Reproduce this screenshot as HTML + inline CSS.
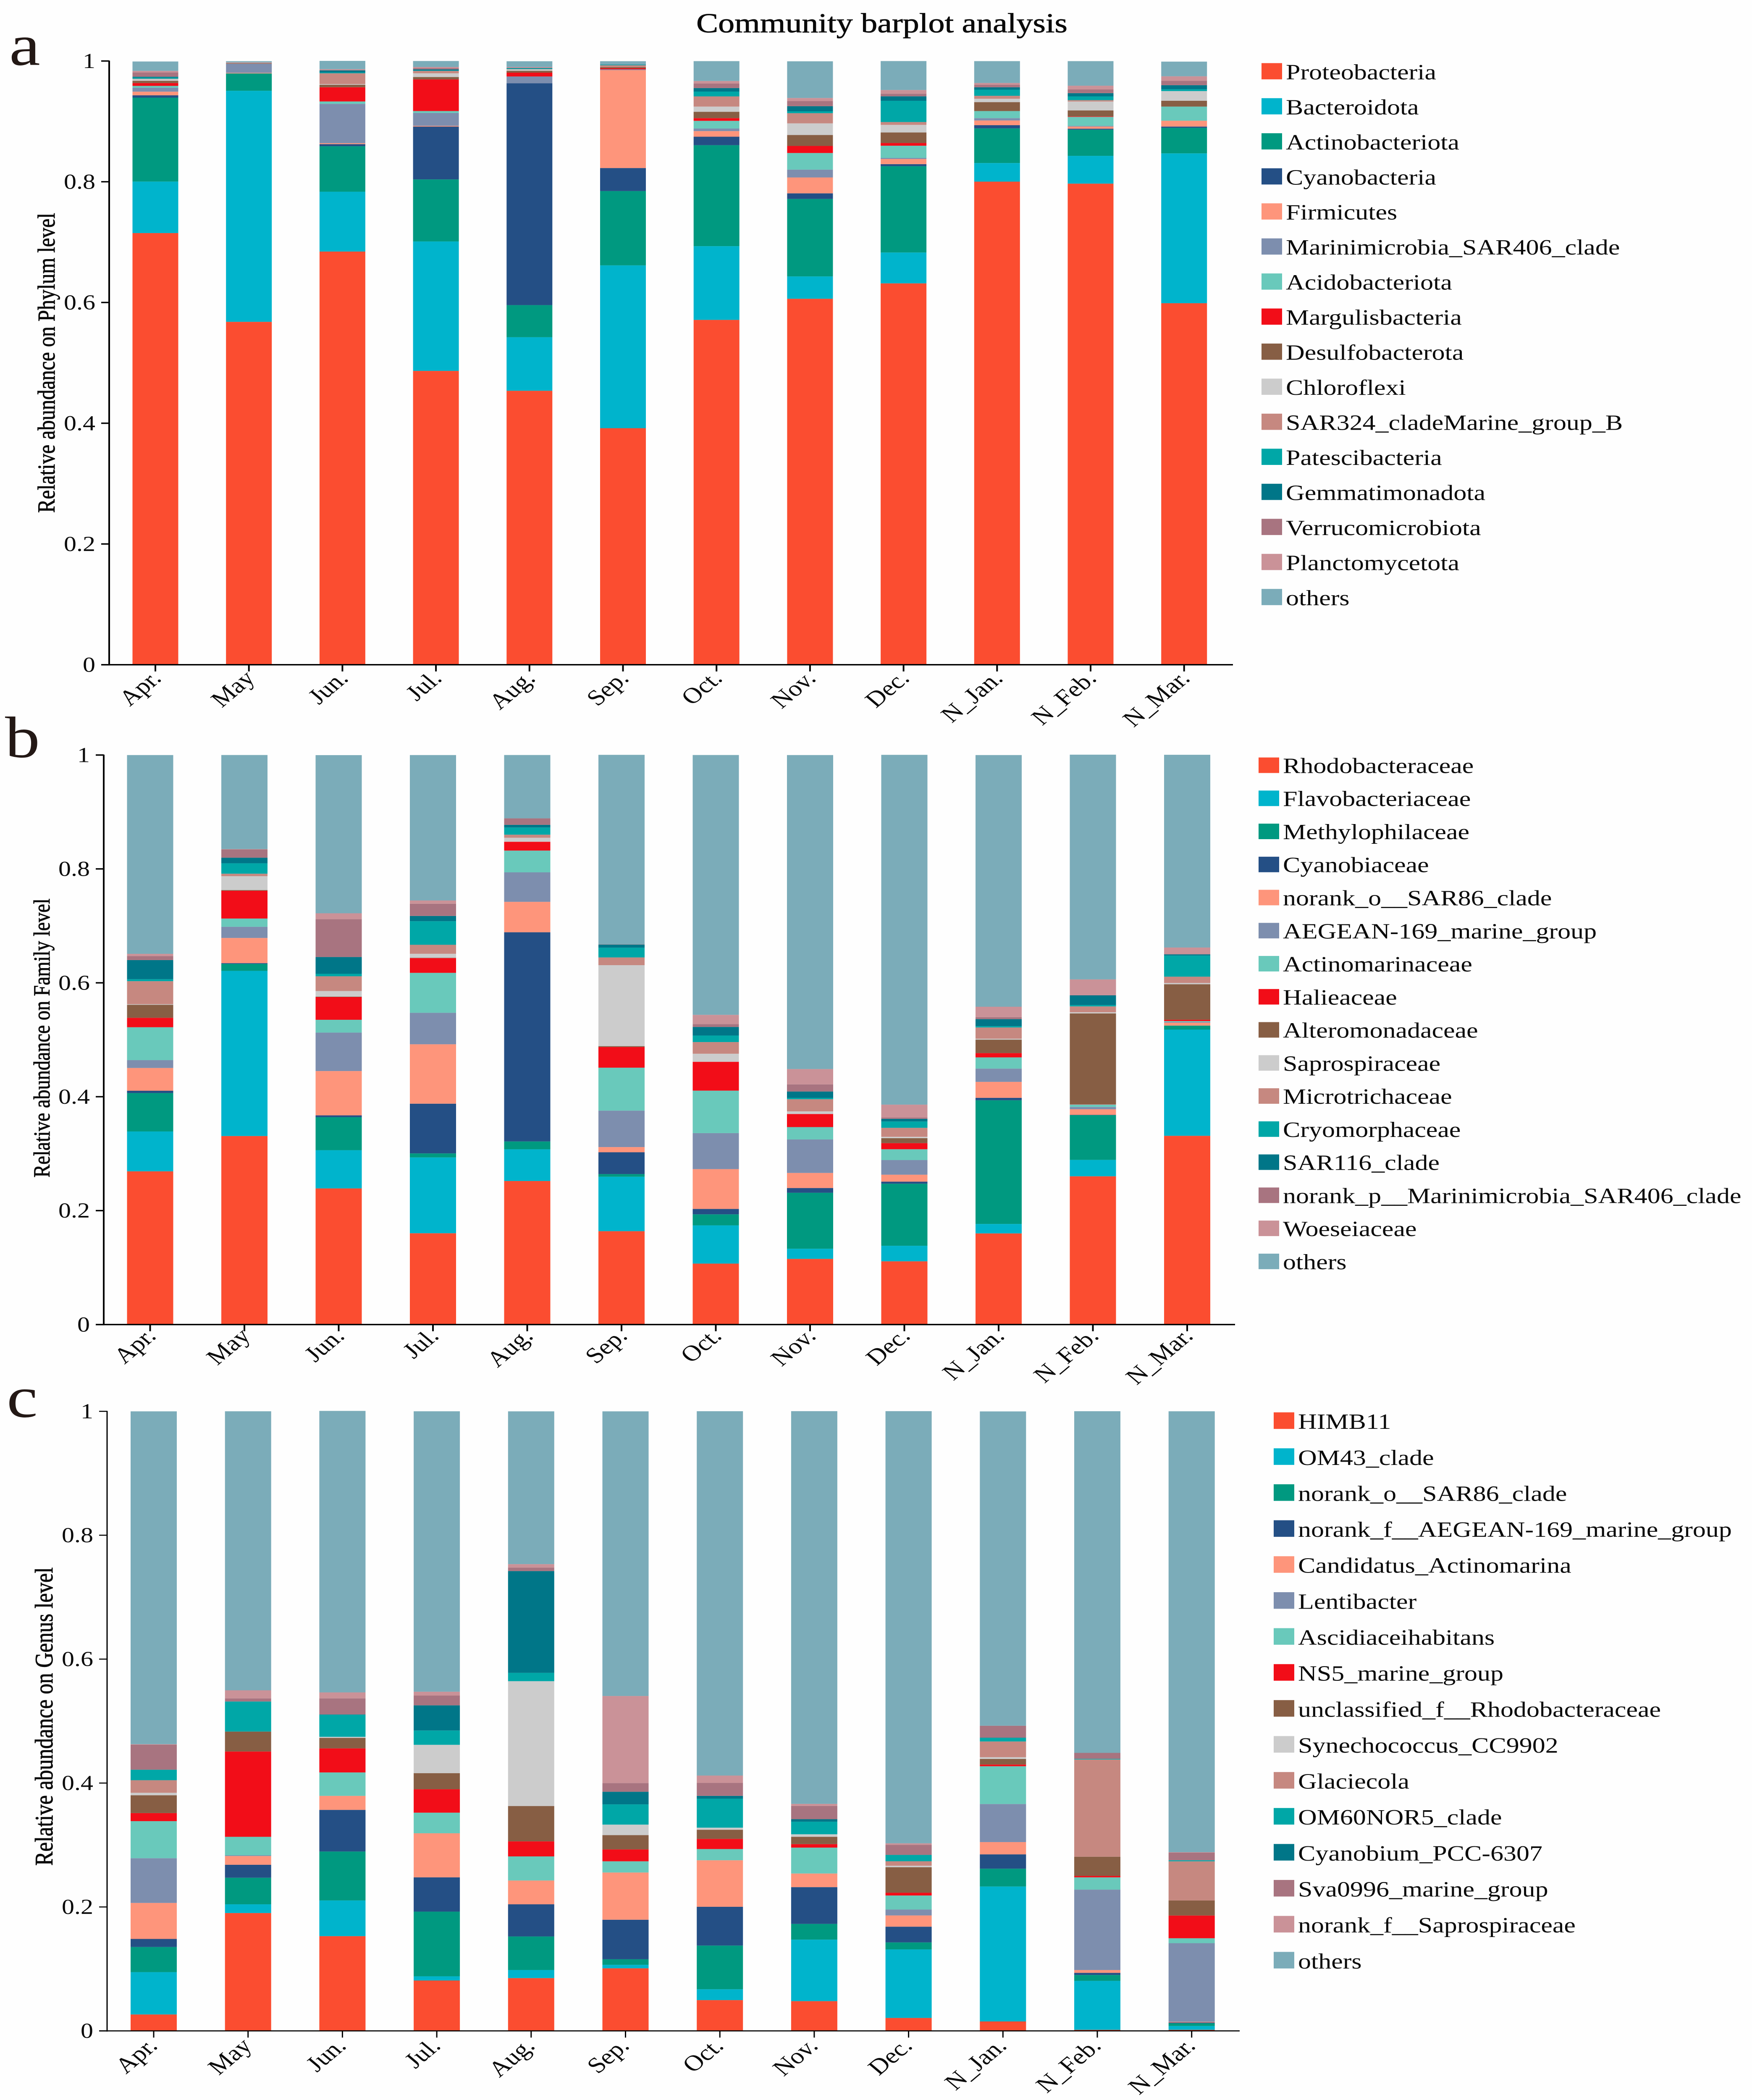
<!DOCTYPE html>
<html lang="en">
<head>
<meta charset="utf-8">
<title>Community barplot analysis</title>
<style>
html,body{margin:0;padding:0;width:100%;height:100%;overflow:hidden;background:#fefefe;}
svg{display:block;width:100vw;height:100vh;}
text{font-family:"Liberation Serif","Times New Roman",serif;fill:#0a0a0a;}
</style>
</head>
<body>
<svg id="figure" xmlns="http://www.w3.org/2000/svg" viewBox="0 0 4172 5955" preserveAspectRatio="none">
<rect x="0" y="0" width="4172" height="5955" fill="#fefefe"/>
<text x="2100" y="92" font-size="78" text-anchor="middle" stroke="#0a0a0a" stroke-width="1">Community barplot analysis</text>
<text x="22" y="184" font-size="166" style="fill:#231815">a</text>
<text x="12" y="2147" font-size="166" style="fill:#231815">b</text>
<text x="16" y="4018" font-size="166" style="fill:#231815">c</text>
<g id="chart-a"></g>
<g id="chart-b"></g>
<g id="chart-c"></g>
</svg>
<script>
const categories = ["Apr.","May","Jun.","Jul.","Aug.","Sep.","Oct.","Nov.","Dec.","N_Jan.","N_Feb.","N_Mar."];
const tickValues = [0,0.2,0.4,0.6,0.8,1];
const tickLabels = ["0","0.2","0.4","0.6","0.8","1"];

/* Panel a: phylum */
const phylumNames = ["Proteobacteria","Bacteroidota","Actinobacteriota","Cyanobacteria","Firmicutes","Marinimicrobia_SAR406_clade","Acidobacteriota","Margulisbacteria","Desulfobacterota","Chloroflexi","SAR324_cladeMarine_group_B","Patescibacteria","Gemmatimonadota","Verrucomicrobiota","Planctomycetota","others"];
const phylumProteobacteria = [.715,.568,.6844,.4867,.4538,.3918,.5712,.6062,.6317,.8002,.7969,.5988];
const phylumBacteroidota = [.0853,.3827,.0991,.2144,.0887,.2697,.1221,.037,.0511,.0308,.046,.2482];
const phylumActinobacteriota = [.139,.0287,.0754,.1028,.0532,.1231,.1673,.1283,.143,.0574,.0434,.0423];
const phylumCyanobacteria = [.0039,0,.0034,.0874,.3675,.0381,.014,.0093,.0033,.0053,.0016,.0021];
const phylumFirmicutes = [.006,.001,.0016,.0013,0,.1622,.0093,.0263,.0086,.0078,.0035,.0097];
const phylumMarinimicrobia = [.0065,.0151,.0652,.0214,.0112,.0013,.0043,.013,.0018,.0039,.0012,0];
const phylumAcidobacteriota = [.0031,0,.0039,.0031,0,0,.0127,.0275,.0202,.0117,.0148,.0234];
const phylumMargulisbacteria = [.0047,0,.0235,.0524,.0063,.0018,.0045,.0117,.0045,0,.0008,0];
const phylumDesulfobacterota = [.0037,.0008,.0042,.0039,.0031,.0018,.0105,.0181,.0175,.0148,.0099,.0097];
const phylumChloroflexi = [.0029,0,.001,.0063,.0023,0,.0086,.0193,.0125,.0056,.0148,.016];
const phylumSAR324 = [.0005,0,.018,.0039,.0005,.0031,.0169,.0169,.0047,.0049,.0023,0];
const phylumPatescibacteria = [.0021,0,.0013,.0005,.0013,.0008,.008,.0031,.0352,.0101,.0062,.0031];
const phylumGemmatimonadota = [.0013,0,.0034,.0021,.0005,.0005,.0058,.0084,.0074,.0039,.0053,.0066];
const phylumVerrucomicrobiota = [.007,0,.001,.0023,.0008,0,.0074,.0086,.0043,.0041,.0062,.0072];
const phylumPlanctomycetota = [.0026,.0013,.001,.0016,.0008,0,.0043,.0051,.0062,.0031,.0062,.0076];
const phylumOthers = [.0156,.0021,.0138,.0099,.0096,.0055,.0329,.0607,.0479,.0362,.0407,.0243];

/* Panel b: family */
const familyNames = ["Rhodobacteraceae","Flavobacteriaceae","Methylophilaceae","Cyanobiaceae","norank_o__SAR86_clade","AEGEAN-169_marine_group","Actinomarinaceae","Halieaceae","Alteromonadaceae","Saprospiraceae","Microtrichaceae","Cryomorphaceae","SAR116_clade","norank_p__Marinimicrobia_SAR406_clade","Woeseiaceae","others"];
const familyRhodobacteraceae = [.269,.331,.239,.1603,.252,.1639,.107,.1153,.111,.16,.2603,.3314];
const familyFlavobacteriaceae = [.07,.29,.0671,.1331,.0557,.0956,.0671,.0178,.0273,.0166,.0288,.1864];
const familyMethylophilaceae = [.0675,.0123,.058,.0071,.0138,.0047,.0194,.0983,.109,.2172,.0786,.0071];
const familyCyanobiaceae = [.004,.0013,.0032,.0873,.3673,.0383,.0095,.0083,.0036,.0043,.0004,0];
const familySAR86 = [.04,.0442,.0778,.1043,.0534,.0091,.0699,.0265,.0122,.028,.0099,.0051];
const familyAEGEAN = [.0138,.0196,.0675,.0553,.0518,.064,.0632,.0588,.0257,.0233,.004,.0012];
const familyActinomarinaceae = [.0577,.0145,.0225,.0701,.0382,.0754,.0746,.0217,.019,.0197,.0043,.0016];
const familyHalieaceae = [.0166,.0487,.0399,.0259,.0155,.0363,.0506,.0229,.0107,.0075,.0004,.0024];
const familyAlteromonadaceae = [.0229,.0013,.0008,.0006,0,.0016,0,0,.0087,.0237,.1596,.0623];
const familySaprospiraceae = [.001,.0243,.0098,.007,.007,.1421,.0142,.0047,.0024,.0016,.002,.0022];
const familyMicrotrichaceae = [.0404,.0044,.0259,.0158,.0054,.0136,.0205,.0213,.0158,.0197,.0103,.0111];
const familyCryomorphaceae = [.0035,.0183,.0044,.0414,.0126,.0171,.0115,.0024,.0111,.0024,.0024,.037];
const familySAR116 = [.0335,.0098,.0294,.0092,.0047,.0054,.015,.0111,.0047,.0122,.017,.0022];
const familyMarinimicrobia = [.007,.0145,.0664,.0215,.0114,.0005,.0051,.0126,.0024,.0036,.0008,.0006];
const familyWoeseiaceae = [.004,.0006,.0104,.0057,0,0,.0162,.0269,.0225,.0182,.0272,.0114];
const familyOthers = [.349,.1652,.2777,.2553,.1112,.3327,.4562,.5513,.6142,.4419,.3946,.3384];

/* Panel c: genus */
const genusNames = ["HIMB11","OM43_clade","norank_o__SAR86_clade","norank_f__AEGEAN-169_marine_group","Candidatus_Actinomarina","Lentibacter","Ascidiaceihabitans","NS5_marine_group","unclassified_f__Rhodobacteraceae","Synechococcus_CC9902","Glaciecola","OM60NOR5_clade","Cyanobium_PCC-6307","Sva0996_marine_group","norank_f__Saprospiraceae","others"];
const genusHIMB11 = [.0265,.1902,.1529,.0813,.0852,.101,.0497,.048,.0209,.0152,.0017,.0017];
const genusOM43 = [.0683,.0141,.0576,.0068,.013,.0056,.0175,.0993,.1106,.2178,.079,.0062];
const genusSAR86 = [.0406,.0429,.079,.1044,.0542,.009,.0705,.0254,.0113,.0288,.0096,.0045];
const genusAEGEAN = [.013,.0209,.0672,.0553,.0519,.0638,.0626,.0593,.0254,.0231,.0034,.0011];
const genusActinomarina = [.0581,.0141,.0226,.0711,.0384,.0762,.0751,.022,.0181,.0198,.0045,.0011];
const genusLentibacter = [.0722,.0011,0,0,0,0,0,0,.0096,.0615,.1298,.127];
const genusAscidiaceihabitans = [.0598,.0299,.0378,.0333,.0389,.0181,.0181,.0418,.0226,.0609,.0198,.0079];
const genusNS5 = [.013,.1377,.0389,.0378,.0243,.0192,.0164,.0056,.0045,.0028,.0023,.0367];
const genusUnclassifiedRhodo = [.0288,.0322,.0169,.026,.057,.0231,.0147,.0119,.0412,.009,.031,.0243];
const genusSynechococcus = [.004,0,.0017,.0457,.2015,.0169,.0034,.004,.0023,.0028,0,0];
const genusGlaciecola = [.0203,0,0,0,0,0,0,0,.0073,.0254,.1569,.0632];
const genusOM60 = [.0169,.0485,.0356,.0231,.0135,.0327,.0468,.0203,.0102,.0056,.0011,.0017];
const genusCyanobium = [0,0,.0005,.0406,.1642,.0203,.0045,.004,0,.0006,0,0];
const genusSva0996 = [.0406,.0051,.026,.0158,.0056,.0141,.0209,.0214,.0164,.0192,.0096,.0124];
const genusSaprospiraceae = [.0006,.013,.0096,.0062,.0056,.1405,.0119,.0034,.0023,0,0,.0006];
const genusOthers = [.5372,.4503,.4543,.4526,.2466,.4594,.588,.6338,.6975,.5073,.5514,.7116];

const seriesColors = ["#fb4d30","#00b4cc","#009980","#244f85","#fe957b","#7d8eae","#69c9bb","#f20d18","#875e44","#cccccc","#c68880","#00a7a7","#007688","#a87480","#ca9298","#7bacb9"];

const phylumSeries = [phylumProteobacteria,phylumBacteroidota,phylumActinobacteriota,phylumCyanobacteria,phylumFirmicutes,phylumMarinimicrobia,phylumAcidobacteriota,phylumMargulisbacteria,phylumDesulfobacterota,phylumChloroflexi,phylumSAR324,phylumPatescibacteria,phylumGemmatimonadota,phylumVerrucomicrobiota,phylumPlanctomycetota,phylumOthers];
const familySeries = [familyRhodobacteraceae,familyFlavobacteriaceae,familyMethylophilaceae,familyCyanobiaceae,familySAR86,familyAEGEAN,familyActinomarinaceae,familyHalieaceae,familyAlteromonadaceae,familySaprospiraceae,familyMicrotrichaceae,familyCryomorphaceae,familySAR116,familyMarinimicrobia,familyWoeseiaceae,familyOthers];
const genusSeries = [genusHIMB11,genusOM43,genusSAR86,genusAEGEAN,genusActinomarina,genusLentibacter,genusAscidiaceihabitans,genusNS5,genusUnclassifiedRhodo,genusSynechococcus,genusGlaciecola,genusOM60,genusCyanobium,genusSva0996,genusSaprospiraceae,genusOthers];

const SVGNS = "http://www.w3.org/2000/svg";
function mk(tag, parent, attrs, txt) {
  const el = document.createElementNS(SVGNS, tag);
  for (const k in attrs) el.setAttribute(k, attrs[k]);
  if (txt !== undefined) el.textContent = txt;
  parent.appendChild(el);
  return el;
}

function drawPanel(cfg) {
  const root = document.getElementById(cfg.id);
  const xScale = i => cfg.x0 + i * cfg.step;
  const yScale = v => cfg.y0 - v * (cfg.y0 - cfg.y1);

  categories.forEach((cat, i) => {
    let cum = 0;
    cfg.series.forEach((vals, s) => {
      const v = vals[i];
      const rect = mk("rect", root, {
        x: xScale(i) - cfg.barW / 2,
        y: yScale(cum + v),
        width: cfg.barW,
        height: yScale(cum) - yScale(cum + v),
        fill: seriesColors[s]
      });
      
      
      cum += v;
    });
  });

  const yAxis = mk("line", root, {x1: cfg.axisX, x2: cfg.axisX, y1: yScale(1) - 1, y2: yScale(0) + 2, stroke: "#000", "stroke-width": cfg.sw});
  
  
  const xAxis = mk("line", root, {x1: cfg.axisX - 19, x2: cfg.axisEnd, y1: yScale(0), y2: yScale(0), stroke: "#000", "stroke-width": cfg.sw});
  
  

  tickValues.forEach((t, i) => {
    const tick = mk("line", root, {x1: cfg.axisX - 19, x2: cfg.axisX, y1: yScale(t), y2: yScale(t), stroke: "#000", "stroke-width": cfg.sw});
    
    
    const lbl = mk("text", root, {x: cfg.axisX - 33, y: yScale(t) + 20, "font-size": 60, "text-anchor": "end"}, tickLabels[i]);
    
    
  });

  categories.forEach((cat, i) => {
    const cx = xScale(i);
    const tick = mk("line", root, {x1: cx, x2: cx, y1: yScale(0), y2: yScale(0) + 19, stroke: "#000", "stroke-width": cfg.sw});
    
    
    const lx = cx + cfg.labelDx, ly = yScale(0) + cfg.labelDy;
    const lbl = mk("text", root, {x: lx, y: ly, "font-size": 63, "text-anchor": "end", transform: `rotate(-45 ${lx} ${ly})`}, cat);
    
    
  });

  const ty = (cfg.y0 + cfg.y1) / 2 + cfg.titleDy;
  const title = mk("text", root, {x: cfg.titleX, y: ty, "font-size": cfg.titleSize, "text-anchor": "middle", stroke: "#0a0a0a", "stroke-width": 1, transform: `rotate(-90 ${cfg.titleX} ${ty})`}, cfg.title);
  
  

  cfg.names.forEach((nm, i) => {
    const top = cfg.legTop + i * cfg.legStep;
    const sw = mk("rect", root, {x: cfg.legX, y: top, width: 49, height: cfg.legH, fill: seriesColors[i]});
    
    
    const tx = mk("text", root, {x: cfg.legX + 58, y: top + cfg.legH, "font-size": 62}, nm);
    
    
  });
}

drawPanel({id:"chart-a", names:phylumNames, series:phylumSeries, x0:370, step:222.7, barW:109, y1:173, y0:1885, axisX:260, axisEnd:2936, sw:4, labelDx:17, labelDy:42, title:"Relative abundance on Phylum level", titleSize:58, titleX:130, titleDy:0, legX:3004, legTop:179, legStep:99.4, legH:46});
drawPanel({id:"chart-b", names:familyNames, series:familySeries, x0:357.5, step:224.5, barW:110, y1:2141, y0:3756, axisX:247, axisEnd:2941, sw:4, labelDx:17, labelDy:36, title:"Relative abundance on Family level", titleSize:55, titleX:118, titleDy:-5, legX:2997, legTop:2148, legStep:93.8, legH:44});
drawPanel({id:"chart-c", names:genusNames, series:genusSeries, x0:366, step:224.7, barW:110, y1:4002, y0:5759, axisX:255, axisEnd:2952, sw:3, labelDx:12, labelDy:46, title:"Relative abundance on Genus level", titleSize:60, titleX:125, titleDy:-13, legX:3033, legTop:4005, legStep:102, legH:47});
</script>
</body>
</html>
